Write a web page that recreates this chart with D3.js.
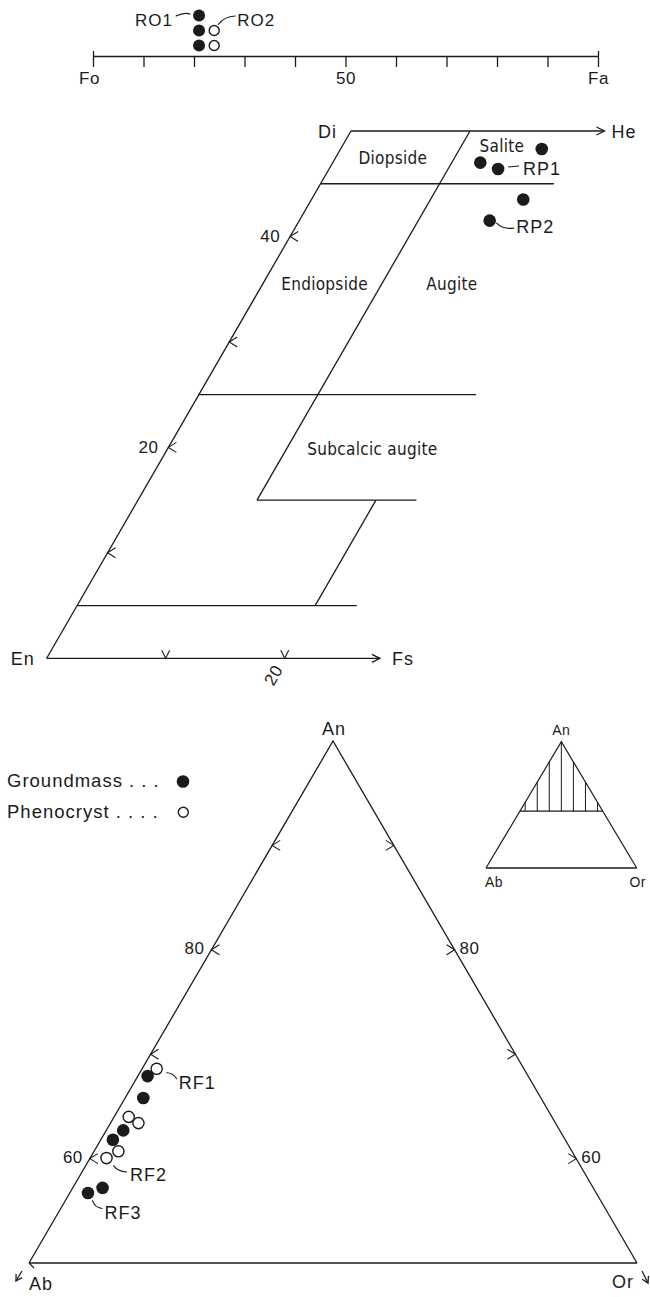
<!DOCTYPE html>
<html>
<head>
<meta charset="utf-8">
<script src="https://cdn.jsdelivr.net/npm/d3@7"></script>
<style>
  html, body { margin: 0; padding: 0; background: #fff; }
  svg { display: block; }
  .lbl { font-family: "Liberation Sans", Arial, Helvetica, sans-serif; fill: #1b1b1b; }
  .field { font-family: "Liberation Sans Narrow", "DejaVu Sans Condensed", "Arial Narrow", sans-serif; font-stretch: condensed; fill: #1b1b1b; }
</style>
</head>
<body>
<svg id="chart" width="650" height="1297"></svg>
<script>
// ---------------- Olivine (Fa mol %) ----------------
const olivineTickValues = [0, 10, 20, 30, 40, 50, 60, 70, 80, 90, 100];
const olivineTickLabels = { 0: "Fo", 50: "50", 100: "Fa" };
const olivineGroundmass = [21, 21, 21];
const olivinePhenocryst = [24, 24];

// ---------------- Pyroxene quadrilateral (Wo, Fs mol %) ----------------
const pyxGroundmass = [
  { wo: 48.3, fs: 16.9 },
  { wo: 47.0, fs: 12.4 },
  { wo: 46.4, fs: 14.2 },
  { wo: 43.5, fs: 17.8 },
  { wo: 41.5, fs: 16.0 }
];
const pyxWoTicks = [10, 20, 30, 40];
const pyxWoTickLabels = { 20: "20", 40: "40" };
const pyxFsTicks = [10, 20];
const pyxFsTickLabels = { 20: "20" };
const pyxHeEnd = 21.3;   // Di–He side drawn to this Fs
const pyxFsEnd = 28.0;   // En–Fs side drawn to this Fs
// field boundaries: constant-Wo lines (fs0 → fs1) and constant-Fs lines (wo0 → wo1)
const pyxWoLines = [
  { wo: 45, fs0: 0,  fs1: 19.6 },
  { wo: 25, fs0: 0,  fs1: 23.3 },
  { wo: 15, fs0: 10, fs1: 23.4 },
  { wo: 5,  fs0: 0,  fs1: 23.5 }
];
const pyxFsLines = [
  { fs: 10, wo0: 15, wo1: 50 },
  { fs: 20, wo0: 5,  wo1: 15 }
];
const pyxFieldNames = [
  { name: "Diopside",         wo: 46.9, fs: 5.1 },
  { name: "Salite",           wo: 48.0, fs: 13.7 },
  { name: "Endiopside",       wo: 34.9, fs: 5.5 },
  { name: "Augite",           wo: 34.9, fs: 16.2 },
  { name: "Subcalcic augite", wo: 19.3, fs: 17.5 }
];

// ---------------- Feldspar (An, Or mol %; Ab = 100 − An − Or) ----------------
const fspGroundmass = [
  { an: 67.9, or: 0.8 },
  { an: 65.8, or: 1.5 },
  { an: 62.7, or: 1.4 },
  { an: 61.8, or: 1.0 },
  { an: 56.7, or: 1.5 },
  { an: 57.2, or: 2.45 }
];
const fspPhenocryst = [
  { an: 68.6, or: 1.2 },
  { an: 64.0, or: 1.2 },
  { an: 63.4, or: 2.3 },
  { an: 60.7, or: 2.0 },
  { an: 60.05, or: 1.35 }
];
const fspAnTicks = [60, 70, 80, 90];
const fspAnTickLabels = { 60: "60", 80: "80" };
const insetCutAn = 45;
const insetHatch = [-48, -32, -16, 0, 16, 32, 48];   // Or − Ab of each hatch line

// ======================================================================
const svg = d3.select("#chart");
const ink = "#1b1b1b";
const lw = 1.3;

function line(g, pts, w) {
  return g.append("path").attr("d", d3.line()(pts))
    .attr("fill", "none").attr("stroke", ink).attr("stroke-width", w || lw)
    .attr("stroke-linejoin", "miter").attr("stroke-linecap", "butt");
}
function curve(g, d, w) {
  return g.append("path").attr("d", d).attr("fill", "none")
    .attr("stroke", ink).attr("stroke-width", w || 1.1).attr("stroke-linecap", "round");
}
function label(g, x, y, str, size, anchor, spacing, cls) {
  return g.append("text").attr("class", cls || "lbl").attr("x", x).attr("y", y)
    .attr("font-size", size).attr("text-anchor", anchor || "start")
    .attr("letter-spacing", spacing == null ? 1 : spacing).text(str);
}
// open arrowhead at (x2,y2) pointing along (x1,y1)->(x2,y2)
function arrow(g, x1, y1, x2, y2, len, half) {
  const a = Math.atan2(y2 - y1, x2 - x1);
  const bx = x2 - len * Math.cos(a), by = y2 - len * Math.sin(a);
  const nx = -Math.sin(a) * half, ny = Math.cos(a) * half;
  line(g, [[x1, y1], [x2, y2]]);
  line(g, [[bx + nx, by + ny], [x2, y2], [bx - nx, by - ny]]);
}
function dots(g, data, pos, r, filled) {
  g.append("g").selectAll("circle").data(data).join("circle")
    .attr("cx", (d, i) => pos(d, i)[0]).attr("cy", (d, i) => pos(d, i)[1])
    .attr("r", r)
    .attr("fill", filled ? ink : "#fff")
    .attr("stroke", filled ? "none" : ink)
    .attr("stroke-width", filled ? 0 : 1.4);
}

// ---------------- Olivine strip ----------------
const gOl = svg.append("g");
const xOl = d3.scaleLinear().domain([0, 100]).range([93, 598]);
const olY = 56;
const olAxis = d3.axisBottom(xOl).tickValues(olivineTickValues)
  .tickSize(11).tickSizeOuter(0).tickFormat(d => olivineTickLabels[d] || "");
const gAx = gOl.append("g").attr("transform", `translate(0,${olY})`).call(olAxis);
gAx.select(".domain").attr("stroke", ink).attr("stroke-width", lw);
gAx.selectAll(".tick line").attr("stroke", ink).attr("stroke-width", lw)
  .attr("y1", d => (d === 0 || d === 100) ? -5 : 0);
gAx.selectAll(".tick text").attr("class", "lbl").attr("font-size", 17)
  .attr("y", 28).attr("dy", null).attr("letter-spacing", 0.5)
  .attr("dx", d => d === 0 ? -4 : 0);

const olPos = (d, i) => [xOl(d), olY - 10.5 - i * 15];
dots(gOl, olivineGroundmass, olPos, 6, true);
dots(gOl, olivinePhenocryst, olPos, 5, false);
{
  const p = olPos(olivineGroundmass[2], 2);
  curve(gOl, `M${p[0] - 9},${p[1] - 1.5} Q${p[0] - 15},${p[1] - 3.5} ${p[0] - 23},${p[1] + 0.5}`);
  label(gOl, p[0] - 26, p[1] + 10.5, "RO1", 17, "end");
  const q = olPos(olivinePhenocryst[1], 1);
  curve(gOl, `M${q[0] + 4},${q[1] - 6} Q${q[0] + 10},${q[1] - 14} ${q[0] + 21},${q[1] - 14.5}`);
  label(gOl, q[0] + 23, q[1] - 4.5, "RO2", 17, "start");
}

// ---------------- Pyroxene quadrilateral ----------------
const gPx = svg.append("g");
const enX = 46.7;
const woY = d3.scaleLinear().domain([0, 50]).range([658.3, 131]);
const woShift = d3.scaleLinear().domain([0, 50]).range([0, 304.3]);
const fsX = d3.scaleLinear().domain([0, 100]).range([0, 1190]);
const pyx = (wo, fs) => [enX + woShift(wo) + fsX(fs), woY(wo)];

line(gPx, [pyx(0, 0), pyx(50, 0)]);
{
  const a = pyx(50, 0), b = pyx(50, pyxHeEnd);
  arrow(gPx, a[0], a[1], b[0], b[1], 8, 4);
  const c = pyx(0, 0), e = pyx(0, pyxFsEnd);
  arrow(gPx, c[0], c[1], e[0], e[1], 8, 4);
}
pyxWoLines.forEach(l => line(gPx, [pyx(l.wo, l.fs0), pyx(l.wo, l.fs1)]));
pyxFsLines.forEach(l => line(gPx, [pyx(l.wo0, l.fs), pyx(l.wo1, l.fs)]));

// Wo ticks on the En–Di side
pyxWoTicks.forEach(t => {
  const p = pyx(t, 0);
  line(gPx, [[p[0] + 8, p[1] - 5], p, [p[0] + 8, p[1] + 5]], 1.1);
  if (pyxWoTickLabels[t]) label(gPx, p[0] - 10, p[1] + 6, pyxWoTickLabels[t], 17, "end", 0.5);
});
// Fs ticks on the En–Fs side
pyxFsTicks.forEach(t => {
  const p = pyx(0, t);
  line(gPx, [[p[0] - 4, p[1] - 8], p, [p[0] + 4, p[1] - 8]], 1.1);
  if (pyxFsTickLabels[t]) {
    gPx.append("text").attr("class", "lbl").attr("font-size", 17).attr("letter-spacing", 0.5)
      .attr("text-anchor", "middle").attr("dominant-baseline", "central")
      .attr("transform", `translate(${p[0] - 11},${p[1] + 17}) rotate(-60)`)
      .text(pyxFsTickLabels[t]);
  }
});
// end-member labels
{
  const en = pyx(0, 0), di = pyx(50, 0), he = pyx(50, pyxHeEnd), fs = pyx(0, pyxFsEnd);
  label(gPx, en[0] - 12, en[1] + 7, "En", 18, "end");
  label(gPx, di[0] - 33, di[1] + 7, "Di", 18, "start");
  label(gPx, he[0] + 7, he[1] + 7, "He", 18, "start");
  label(gPx, fs[0] + 12, fs[1] + 7, "Fs", 18, "start");
}
// field names
pyxFieldNames.forEach(f => {
  const p = pyx(f.wo, f.fs);
  label(gPx, p[0], p[1], f.name, 17, "middle", 0.3, "field");
});
// analyses
const pxPos = d => pyx(d.wo, d.fs);
dots(gPx, pyxGroundmass, pxPos, 6.3, true);
{
  const p = pxPos(pyxGroundmass[2]);
  line(gPx, [[p[0] + 10, p[1] - 2], [p[0] + 21, p[1] - 3]], 1.1);
  label(gPx, p[0] + 25, p[1] + 6, "RP1", 18, "start");
  const q = pxPos(pyxGroundmass[4]);
  curve(gPx, `M${q[0] + 7},${q[1] + 2.5} Q${q[0] + 13},${q[1] + 9} ${q[0] + 24},${q[1] + 7.5}`);
  label(gPx, q[0] + 26.5, q[1] + 12.6, "RP2", 18, "start");
}

// ---------------- Feldspar triangle (An 50–100) ----------------
const gFs = svg.append("g");
const anY = d3.scaleLinear().domain([100, 50]).range([741, 1263]);
const sideX = d3.scaleLinear().domain([-50, 50]).range([29, 637]);
const fsp = (an, or) => { const ab = 100 - an - or; return [sideX(or - ab), anY(an)]; };

line(gFs, [fsp(50, 0), fsp(100, 0), fsp(50, 50)]);
line(gFs, [fsp(50, 0), fsp(50, 50)], 1.5);
{
  const ab = fsp(50, 0), or = fsp(50, 50), an = fsp(100, 0);
  line(gFs, [[ab[0], ab[1]], [ab[0] + 5, ab[1] + 5]], 1.1);
  arrow(gFs, ab[0] - 7, ab[1] + 8, ab[0] - 13, ab[1] + 18, 6, 3.5);
  arrow(gFs, or[0] + 5, or[1] + 8, or[0] + 11, or[1] + 20, 6, 3.5);
  label(gFs, ab[0] + 0, ab[1] + 27, "Ab", 18, "start");
  label(gFs, or[0] - 3, or[1] + 25, "Or", 18, "end");
  label(gFs, an[0] + 1, an[1] - 6, "An", 18, "middle");
}
fspAnTicks.forEach(t => {
  const l = fsp(t, 0), r = fsp(t, 100 - t);
  line(gFs, [[l[0] + 8, l[1] - 5], l, [l[0] + 8, l[1] + 5]], 1.1);
  line(gFs, [[r[0] - 8, r[1] - 5], r, [r[0] - 8, r[1] + 5]], 1.1);
  if (fspAnTickLabels[t]) {
    label(gFs, l[0] - 7, l[1] + 4, fspAnTickLabels[t], 17, "end", 0.5);
    label(gFs, r[0] + 5, r[1] + 4, fspAnTickLabels[t], 17, "start", 0.5);
  }
});
const fPos = d => fsp(d.an, d.or);
dots(gFs, fspPhenocryst, fPos, 5.6, false);
dots(gFs, fspGroundmass, fPos, 6.3, true);
{
  const p1 = fPos(fspPhenocryst[0]);
  curve(gFs, `M${p1[0] + 10},${p1[1] + 4} Q${p1[0] + 16},${p1[1] + 4} ${p1[0] + 20},${p1[1] + 10}`);
  label(gFs, p1[0] + 22, p1[1] + 20, "RF1", 18, "start");
  const p2 = fPos(fspPhenocryst[4]);
  curve(gFs, `M${p2[0] + 7},${p2[1] + 7.5} Q${p2[0] + 11},${p2[1] + 13} ${p2[0] + 20},${p2[1] + 14}`);
  label(gFs, p2[0] + 23.5, p2[1] + 22.5, "RF2", 18, "start");
  const p3 = fPos(fspGroundmass[4]);
  curve(gFs, `M${p3[0] + 4.5},${p3[1] + 7.5} Q${p3[0] + 6.5},${p3[1] + 14} ${p3[0] + 14},${p3[1] + 15.5}`);
  label(gFs, p3[0] + 16.5, p3[1] + 25.5, "RF3", 18, "start");
}

// legend
{
  const gL = svg.append("g");
  label(gL, 7, 787, "Groundmass . . .", 18.5, "start", 1);
  label(gL, 7, 818, "Phenocryst . . . .", 18.5, "start", 1);
  gL.append("circle").attr("cx", 183).attr("cy", 781.5).attr("r", 6.3).attr("fill", ink);
  gL.append("circle").attr("cx", 183.3).attr("cy", 812.3).attr("r", 5)
    .attr("fill", "#fff").attr("stroke", ink).attr("stroke-width", 1.4);
}

// inset: enlarged part of the An–Ab–Or triangle
{
  const gI = svg.append("g");
  const iY = d3.scaleLinear().domain([0, 100]).range([868, 741.7]);
  const iX = d3.scaleLinear().domain([-100, 100]).range([486, 636.7]);
  const ip = (an, or) => { const ab = 100 - an - or; return [iX(or - ab), iY(an)]; };
  line(gI, [ip(0, 0), ip(100, 0), ip(0, 100)], 1.2);
  line(gI, [ip(0, 0), ip(0, 100)], 1.5);
  line(gI, [ip(insetCutAn, 0), ip(insetCutAn, 100 - insetCutAn)], 1.2);
  insetHatch.forEach(d => {
    const x = iX(d);
    line(gI, [[x, iY(insetCutAn)], [x, iY(100 - Math.abs(d))]], 1);
  });
  const a = ip(100, 0), b = ip(0, 0), c = ip(0, 100);
  label(gI, a[0], a[1] - 7, "An", 14, "middle", 0.5);
  label(gI, b[0] + 8, b[1] + 19, "Ab", 14, "middle", 0.5);
  label(gI, c[0] + 1, c[1] + 19, "Or", 14, "middle", 0.5);
}
</script>
</body>
</html>
